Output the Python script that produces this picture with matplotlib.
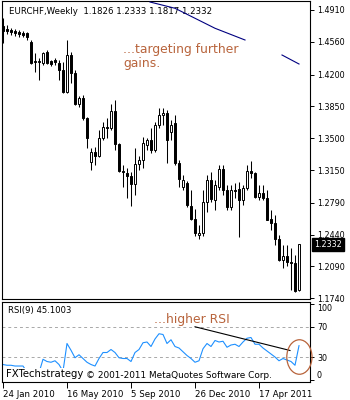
import numpy as np
import pandas as pd
import matplotlib
matplotlib.use("Agg")
import matplotlib.pyplot as plt
import matplotlib.transforms as mtransforms
from matplotlib.patches import Ellipse

symbol = "EURCHF"
timeframe = "Weekly"
start_date = "2010-01-24"

opens = [1.4734,1.4701,1.4690,1.4679,1.4668,1.4657,1.4657,1.4558,1.4349,1.4338,
         1.4327,1.4448,1.4349,1.4360,1.4327,1.4250,1.4008,1.4415,1.4217,1.3876,
         1.3942,1.3722,1.3238,1.3348,1.3304,1.3502,1.3623,1.3612,1.3799,1.3436,
         1.3139,1.3117,1.3084,1.2996,1.3216,1.3260,1.3425,1.3480,1.3370,1.3645,
         1.3755,1.3777,1.3568,1.3667,1.3227,1.2963,1.3007,1.2754,1.2611,1.2435,
         1.2457,1.2800,1.3040,1.2820,1.2963,1.3161,1.2930,1.2743,1.2930,1.2941,
         1.2820,1.2952,1.3139,1.3117,1.2853,1.2897,1.2842,1.2611,1.2567,1.2391,
         1.2160,1.2204,1.2138,1.2127,1.1826]
highs = [1.4822,1.4745,1.4712,1.4701,1.4690,1.4679,1.4668,1.4580,1.4437,1.4382,
         1.4448,1.4470,1.4360,1.4382,1.4360,1.4338,1.4580,1.4448,1.4250,1.3964,
         1.3975,1.3733,1.3392,1.3403,1.3590,1.3678,1.3722,1.3876,1.3920,1.3447,
         1.3205,1.3172,1.3128,1.3392,1.3304,1.3513,1.3502,1.3612,1.3678,1.3832,
         1.3832,1.3810,1.3700,1.3755,1.3260,1.3095,1.3029,1.2930,1.2721,1.2545,
         1.2930,1.3095,1.3128,1.3040,1.3205,1.3205,1.2985,1.2985,1.3007,1.3018,
         1.2985,1.3205,1.3249,1.3128,1.2985,1.2985,1.2930,1.2710,1.2655,1.2435,
         1.2325,1.2325,1.2292,1.2215,1.2333]
lows = [1.4547,1.4646,1.4635,1.4624,1.4613,1.4613,1.4580,1.4316,1.4228,1.4140,
        1.4305,1.4316,1.4294,1.4305,1.4140,1.3997,1.3997,1.4107,1.3865,1.3843,
        1.3700,1.3392,1.3150,1.3205,1.3293,1.3480,1.3502,1.3590,1.3370,1.3128,
        1.2963,1.2842,1.2754,1.2875,1.3150,1.3172,1.3370,1.3337,1.3348,1.3612,
        1.3645,1.3227,1.3480,1.3205,1.2963,1.2930,1.2743,1.2600,1.2424,1.2391,
        1.2424,1.2688,1.2798,1.2710,1.2930,1.2875,1.2710,1.2710,1.2842,1.2413,
        1.2765,1.2930,1.3062,1.2842,1.2820,1.2820,1.2600,1.2490,1.2325,1.2149,
        1.2072,1.2094,1.1830,1.1808,1.1817]
closes = [1.4679,1.4679,1.4668,1.4657,1.4646,1.4635,1.4613,1.4327,1.4338,1.4349,
          1.4437,1.4327,1.4316,1.4338,1.4250,1.4008,1.4415,1.4217,1.3876,1.3942,
          1.3722,1.3502,1.3348,1.3304,1.3502,1.3623,1.3612,1.3799,1.3436,1.3139,
          1.3128,1.3084,1.2996,1.3216,1.3260,1.3447,1.3480,1.3370,1.3645,1.3755,
          1.3777,1.3480,1.3645,1.3227,1.3051,1.3040,1.2765,1.2611,1.2457,1.2457,
          1.2800,1.3040,1.2831,1.2985,1.3161,1.2930,1.2743,1.2930,1.2919,1.2820,
          1.2952,1.3139,1.3117,1.2853,1.2897,1.2842,1.2600,1.2567,1.2391,1.2160,
          1.2204,1.2138,1.2127,1.1819,1.2332]
rsi = [20,19,19,18,18,18,10,5,7,9,
       27,24,23,25,20,11,48,39,29,33,
       28,23,20,18,28,36,36,40,36,29,
       28,28,24,36,40,49,50,44,54,61,
       60,48,53,44,42,37,32,28,23,25,
       41,48,44,52,50,51,43,46,47,44,
       50,55,56,47,47,42,38,34,30,25,
       28,26,24,19,45.1003]
rsi_period = 9
price_ticks = [1.4910,1.4560,1.4200,1.3850,1.3500,1.3150,1.2790,1.2440,1.2090,1.1740]
rsi_ticks = [100, 70, 30, 0]
rsi_levels = [70, 30]
date_tick_every = 16

# hand-drawn navy line on the price chart (bar index, price)
line1_idx = [36.75, 43, 48, 53, 60.5]
line1_px = [1.4998, 1.4929, 1.4819, 1.4709, 1.4580]
line2_idx = [69.75, 74]
line2_px = [1.4415, 1.4316]
# RSI trend line (bar index, rsi)
rsi_line_idx = [48, 71.75]
rsi_line_val = [70.3, 38.7]
# circle around the last RSI readings (centre bar, centre rsi, width bars, height rsi)
circle = (74.1, 30.0, 6.3, 46.0)

note_main = "...targeting further\ngains."
note_rsi = "...higher RSI"
brown = "#b8643c"

n = len(closes)
idx = np.arange(n)
dates = pd.date_range(start_date, periods=n, freq="7D")

fig = plt.figure(figsize=(3.5, 4.0), dpi=100)
ax = fig.add_axes([2/350, 101/400, 308/350, 298/400])
axr = fig.add_axes([2/350, 18/400, 308/350, 80/400])

for a in (ax, axr):
    for s in a.spines.values():
        s.set_linewidth(0.8)
        s.set_color("black")

# candles
o = np.array(opens); h = np.array(highs); l = np.array(lows); c = np.array(closes)
ax.vlines(idx, l, h, color="black", linewidth=0.75, zorder=2)
up = c >= o
bottom = np.minimum(o, c)
height = np.maximum(np.abs(c - o), 0.0004)
ax.bar(idx, height, bottom=bottom, width=0.66, color=np.where(up, "white", "black"),
       edgecolor="black", linewidth=0.7, zorder=3)

ax.plot(line1_idx, line1_px, color="#000080", linewidth=0.8, zorder=4)
ax.plot(line2_idx, line2_px, color="#000080", linewidth=0.8, zorder=4)

ax.set_xlim(-0.25, n + 1.75)
ax.set_ylim(1.1731, 1.5009)
ax.yaxis.tick_right()
ax.set_yticks(price_ticks)
ax.set_yticklabels([f"{v:.4f}" for v in price_ticks])
ax.set_xticks([])
ax.tick_params(axis="y", length=3, width=0.7, pad=2, labelsize=5.8)

ax.text(7/308, 1 - 10/298,
        f"{symbol},{timeframe}  {opens[-1]:.4f} {highs[-1]:.4f} {lows[-1]:.4f} {closes[-1]:.4f}",
        transform=ax.transAxes, fontsize=6.2, va="center", ha="left", color="black")
ax.text(121/308, 1 - 55/298, note_main, transform=ax.transAxes, fontsize=8.9,
        color=brown, va="center", ha="left", linespacing=1.1)

trans = mtransforms.blended_transform_factory(ax.transAxes, ax.transData)
ax.text(1.012, closes[-1], f"{closes[-1]:.4f}", transform=trans, fontsize=5.8,
        color="white", va="center", ha="left",
        bbox=dict(facecolor="black", edgecolor="black", pad=1.5), clip_on=False, zorder=10)

# RSI panel
axr.plot(idx, rsi, color="#1e90ff", linewidth=0.8, zorder=2)
for lv in rsi_levels:
    axr.axhline(lv, color="#a8a8a8", linewidth=0.7, linestyle=(0, (3, 3)), zorder=1)
axr.plot(rsi_line_idx, rsi_line_val, color="black", linewidth=0.8, zorder=3)
axr.add_patch(Ellipse((circle[0], circle[1]), circle[2], circle[3], fill=False,
                      edgecolor=brown, linewidth=0.9, clip_on=False, zorder=4))
axr.set_xlim(-0.25, n + 1.75)
axr.set_ylim(-3.3, 103.3)
axr.yaxis.tick_right()
axr.set_yticks(rsi_ticks)
axr.set_yticklabels([str(t) for t in rsi_ticks])
axr.tick_params(axis="y", length=3, width=0.7, pad=2, labelsize=5.8)
ylabs = axr.get_yticklabels()
ylabs[0].set_va("top")
ylabs[-1].set_va("bottom")

tick_pos = idx[::date_tick_every]
axr.set_xticks(tick_pos)
axr.set_xticklabels([f"{d.day} {d.strftime('%b %Y')}" for d in dates[::date_tick_every]],
                    ha="left")
axr.tick_params(axis="x", length=4, width=0.7, pad=2, labelsize=6.2)

axr.text(6/308, 1 - 8/80, f"RSI({rsi_period}) {rsi[-1]:.4f}", transform=axr.transAxes,
         fontsize=6.1, va="center", ha="left")
axr.text(152/308, 1 - 18/80, note_rsi, transform=axr.transAxes, fontsize=8.9,
         color=brown, va="center", ha="left")
axr.text(4/308, 1 - 72/80, "FXTechstrategy", transform=axr.transAxes, fontsize=7.3,
         va="center", ha="left", zorder=6,
         bbox=dict(facecolor="white", edgecolor="none", pad=0.6))
axr.text(84/308, 1 - 73/80, "\u00a9 2001-2011 MetaQuotes Software Corp.",
         transform=axr.transAxes, fontsize=6.4, va="center", ha="left", zorder=6)

fig.savefig("out.png", dpi=100, facecolor="white")
